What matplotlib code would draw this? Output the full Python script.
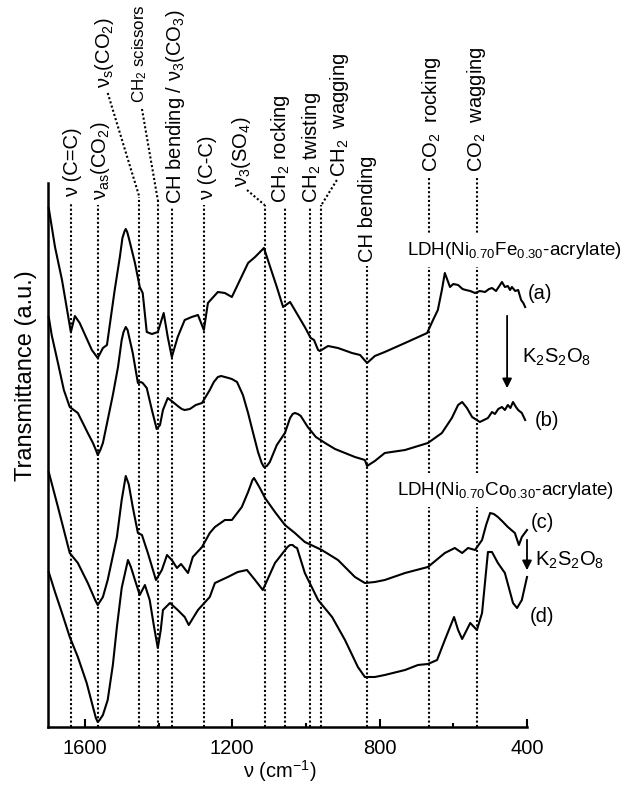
import matplotlib
matplotlib.use('Agg')
import matplotlib.pyplot as plt

plt.rcParams['font.family'] = ['Liberation Sans', 'DejaVu Sans']
plt.rcParams['mathtext.default'] = 'regular'

# ---- spectra (wavenumber in cm-1, transmittance in a.u.) ----
wn_a = [1698, 1681, 1662, 1638, 1627, 1614, 1581, 1565, 1551, 1540, 1519, 1505, 1498, 1492,
        1489, 1485, 1480, 1464, 1451, 1443, 1432, 1418, 1402, 1386, 1375, 1364, 1348, 1329,
        1310, 1293, 1277, 1266, 1239, 1220, 1201, 1157, 1138, 1114, 1079, 1062, 1043, 1003,
        987, 978, 967, 962, 940, 913, 875, 853, 834, 813, 786, 731, 671, 655, 642, 631, 623,
        614, 609, 600, 587, 575, 566, 554, 541, 528, 514, 503, 495, 484, 468, 460, 452, 446,
        441, 432, 424, 416, 410, 405]
t_a = [5.19, 4.80, 4.47, 3.95, 4.11, 4.04, 3.77, 3.69, 3.79, 3.82, 4.37, 4.70, 4.89, 4.96,
       4.98, 4.95, 4.88, 4.64, 4.40, 4.34, 3.95, 3.93, 3.95, 4.14, 3.90, 3.70, 3.90, 4.07,
       4.10, 4.12, 3.97, 4.24, 4.35, 4.34, 4.30, 4.64, 4.70, 4.79, 4.40, 4.20, 4.25, 4.00,
       3.89, 3.87, 3.77, 3.76, 3.81, 3.79, 3.74, 3.72, 3.64, 3.71, 3.75, 3.84, 3.94, 4.07,
       4.17, 4.37, 4.54, 4.45, 4.40, 4.43, 4.42, 4.38, 4.37, 4.36, 4.34, 4.36, 4.35, 4.38,
       4.39, 4.36, 4.45, 4.40, 4.41, 4.37, 4.40, 4.36, 4.37, 4.27, 4.24, 4.20]

wn_b = [1698, 1690, 1673, 1657, 1641, 1619, 1592, 1578, 1570, 1565, 1558, 1551, 1538, 1524,
        1510, 1500, 1495, 1489, 1484, 1481, 1470, 1456, 1448, 1443, 1432, 1418, 1405, 1396,
        1388, 1375, 1361, 1348, 1337, 1329, 1315, 1299, 1282, 1261, 1250, 1239, 1230, 1220,
        1210, 1201, 1187, 1171, 1157, 1144, 1130, 1120, 1114, 1106, 1098, 1079, 1057, 1043,
        1036, 1030, 1022, 1014, 995, 973, 948, 921, 894, 867, 840, 834, 813, 786, 731, 669,
        631, 604, 587, 576, 563, 549, 528, 506, 495, 487, 478, 468, 460, 452, 445, 438, 430,
        424, 414, 405]
t_b = [4.10, 3.92, 3.64, 3.37, 3.20, 3.14, 2.94, 2.84, 2.77, 2.72, 2.77, 2.84, 3.07, 3.32,
       3.60, 3.87, 3.95, 4.00, 3.97, 3.92, 3.74, 3.44, 3.45, 3.44, 3.39, 3.17, 2.98, 3.02,
       3.17, 3.29, 3.25, 3.21, 3.18, 3.17, 3.18, 3.22, 3.24, 3.37, 3.45, 3.50, 3.51, 3.50,
       3.49, 3.48, 3.45, 3.32, 3.14, 2.95, 2.75, 2.64, 2.60, 2.61, 2.65, 2.82, 2.94, 3.09,
       3.13, 3.14, 3.13, 3.11, 3.00, 2.90, 2.84, 2.78, 2.74, 2.70, 2.67, 2.61, 2.66, 2.74,
       2.77, 2.84, 2.94, 3.09, 3.22, 3.25, 3.19, 3.10, 3.05, 3.09, 3.15, 3.13, 3.18, 3.20,
       3.17, 3.22, 3.19, 3.25, 3.20, 3.17, 3.14, 3.07]

wn_c = [1698, 1673, 1657, 1641, 1619, 1592, 1572, 1565, 1558, 1551, 1538, 1513, 1500, 1489,
        1481, 1470, 1456, 1445, 1429, 1407, 1391, 1377, 1364, 1350, 1339, 1320, 1307, 1282,
        1261, 1247, 1220, 1201, 1174, 1157, 1150, 1145, 1141, 1136, 1125, 1111, 1084, 1057,
        1030, 1003, 957, 913, 867, 840, 813, 786, 731, 669, 623, 596, 576, 560, 541, 522,
        511, 500, 490, 479, 465, 452, 433, 422, 414, 400]
t_c = [2.55, 2.20, 1.97, 1.74, 1.64, 1.44, 1.27, 1.22, 1.26, 1.30, 1.47, 1.90, 2.27, 2.51,
       2.43, 2.20, 1.94, 1.92, 1.74, 1.47, 1.57, 1.72, 1.67, 1.59, 1.63, 1.54, 1.70, 1.80,
       1.94, 2.00, 2.07, 2.07, 2.20, 2.35, 2.42, 2.47, 2.49, 2.46, 2.39, 2.29, 2.15, 2.02,
       1.94, 1.85, 1.77, 1.67, 1.50, 1.44, 1.45, 1.47, 1.54, 1.60, 1.74, 1.79, 1.74, 1.79,
       1.77, 1.87, 2.02, 2.14, 2.13, 2.10, 2.05, 2.00, 1.94, 1.82, 1.90, 1.97]

wn_d = [1698, 1681, 1662, 1641, 1619, 1595, 1578, 1570, 1565, 1560, 1551, 1538, 1524, 1513,
        1500, 1483, 1475, 1464, 1451, 1437, 1424, 1413, 1402, 1394, 1388, 1369, 1348, 1329,
        1318, 1293, 1261, 1247, 1212, 1185, 1160, 1138, 1117, 1084, 1050, 1043, 1036, 1030,
        1024, 1003, 967, 929, 894, 859, 840, 813, 786, 731, 696, 669, 644, 623, 598, 587, 576,
        554, 536, 522, 506, 495, 479, 460, 438, 427, 414, 400]
t_d = [1.55, 1.35, 1.14, 0.90, 0.70, 0.44, 0.20, 0.09, 0.05, 0.07, 0.12, 0.27, 0.62, 1.00,
       1.39, 1.67, 1.60, 1.47, 1.32, 1.42, 1.27, 1.02, 0.79, 0.97, 1.17, 1.24, 1.17, 1.10,
       1.02, 1.17, 1.30, 1.44, 1.50, 1.55, 1.57, 1.47, 1.37, 1.64, 1.80, 1.82, 1.82, 1.80,
       1.79, 1.54, 1.27, 1.10, 0.87, 0.60, 0.50, 0.50, 0.52, 0.57, 0.62, 0.63, 0.67, 0.87,
       1.10, 0.97, 0.88, 1.04, 0.97, 1.14, 1.75, 1.75, 1.64, 1.54, 1.24, 1.19, 1.27, 1.50]

# ---- band assignments ----
band_pos = [1638, 1565, 1452, 1402, 1363, 1276, 1112, 1058, 990, 958, 833, 667, 535]
band_labels = ['ν (C=C)', 'ν$_{as}$(CO$_2$)', 'ν$_s$(CO$_2$)', 'CH$_2$ scissors',
               'CH bending / ν$_3$(CO$_3$)', 'ν (C-C)', 'ν$_3$(SO$_4$)', 'CH$_2$ rocking',
               'CH$_2$ twisting', 'CH$_2$  wagging', 'CH bending', 'CO$_2$  rocking',
               'CO$_2$  wagging']

# label x, label bottom, top of the vertical line, start of slanted connector, font size
layout = [(1633, 5.30, 5.24, None, 14.5), (1557, 5.27, 5.22, None, 14.5),
          (1548, 6.39, 5.30, (1538, 6.34), 14.5), (1451, 6.24, 5.27, (1445, 6.18), 12.2),
          (1353, 5.23, 5.19, None, 14.5), (1266, 5.27, 5.22, None, 14.5),
          (1174, 5.40, 5.22, (1160, 5.37), 14.5), (1068, 5.24, 5.20, None, 14.5),
          (984, 5.24, 5.20, None, 14.5), (908, 5.50, 5.22, (916, 5.47), 14.5),
          (832, 4.65, 4.61, None, 14.5), (658, 5.55, 5.49, None, 14.5),
          (536, 5.55, 5.49, None, 14.5)]

fs = 14.5
dots = dict(color='black', lw=1.5, linestyle=(0, (1, 1.1)), clip_on=False, zorder=1)

fig = plt.figure(figsize=(6.21, 7.91), dpi=100)
ax = fig.add_axes([48 / 621, 1 - 727 / 791, 479 / 621, 544 / 791])

for pos, lab, (tx, ty, top, conn, size) in zip(band_pos, band_labels, layout):
    ax.plot([pos, pos], [0, top], **dots)
    if conn is not None:
        ax.plot([conn[0], pos], [conn[1], top], **dots)
    ax.text(tx, ty, lab, rotation=90, ha='center', va='bottom', fontsize=size, clip_on=False)

for wn, t in [(wn_a, t_a), (wn_b, t_b), (wn_c, t_c), (wn_d, t_d)]:
    ax.plot(wn, t, color='black', lw=1.5, zorder=3, clip_on=False)

box = dict(facecolor='white', edgecolor='none', pad=5)
ax.text(726, 4.77, 'LDH(Ni$_{0.70}$Fe$_{0.30}$-acrylate)', fontsize=13.5, va='center',
        ha='left', bbox=box, zorder=2, clip_on=False)
ax.text(753, 2.37, 'LDH(Ni$_{0.70}$Co$_{0.30}$-acrylate)', fontsize=13.5, va='center',
        ha='left', bbox=box, zorder=2, clip_on=False)

for x, y, s in [(365, 4.34, '(a)'), (346, 3.07, '(b)'), (359, 2.05, '(c)'), (359, 1.10, '(d)')]:
    ax.text(x, y, s, fontsize=fs, ha='center', va='center', clip_on=False)

ax.text(414, 3.70, 'K$_2$S$_2$O$_8$', fontsize=fs, ha='left', va='center', clip_on=False)
ax.text(378, 1.67, 'K$_2$S$_2$O$_8$', fontsize=fs, ha='left', va='center', clip_on=False)
arrow = dict(arrowstyle='-|>', color='black', lw=1.3, mutation_scale=14)
ax.annotate('', xy=(454, 3.36), xytext=(454, 4.14), arrowprops=arrow, annotation_clip=False)
ax.annotate('', xy=(400, 1.54), xytext=(400, 1.90), arrowprops=arrow, annotation_clip=False)

ax.set_xlim(1700, 400)
ax.set_ylim(0, 5.44)
ax.set_xticks([1600, 1200, 800, 400])
ax.set_xticks([1400, 1000, 600], minor=True)
ax.set_yticks([])
ax.tick_params(axis='x', which='major', direction='in', length=6, width=1.5,
               labelsize=fs, pad=9)
ax.tick_params(axis='x', which='minor', direction='in', length=3, width=1.5)
for side in ['top', 'right']:
    ax.spines[side].set_visible(False)
for side in ['left', 'bottom']:
    ax.spines[side].set_linewidth(1.8)

ax.set_xlabel('ν (cm$^{-1}$)', fontsize=fs)
ax.xaxis.set_label_coords(0.484, -0.058)
ax.set_ylabel('Transmittance (a.u.)', fontsize=17)
ax.yaxis.set_label_coords(-0.022, 0.645)

fig.savefig('out.png', dpi=100)
